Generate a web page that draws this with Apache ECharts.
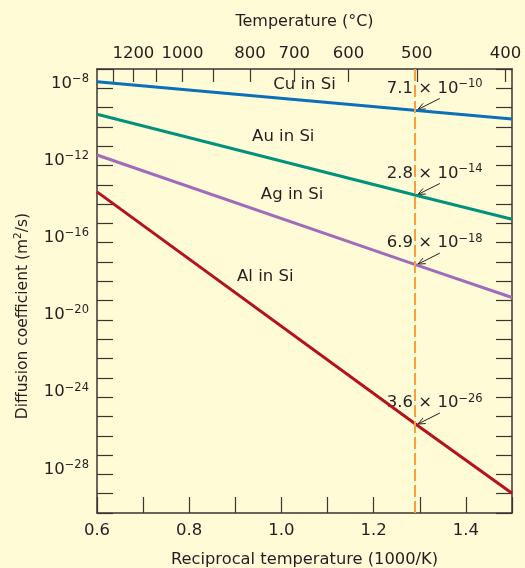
<!DOCTYPE html>
<html><head><meta charset="utf-8">
<script src="https://cdn.jsdelivr.net/npm/echarts@6/dist/echarts.min.js"></script>
<style>html,body{margin:0;padding:0;background:#fffbd6;}#c{width:525px;height:568px;}</style>
</head><body><div id="c"></div>
<script>
// Reciprocal temperature (1000/K) at which values are read
const recipT = [0.6, 1000 / 773, 1.5];
// Diffusion coefficients (m^2/s)
const cuInSi = [2.2e-8, 7.1e-10, 2.6e-10];
const auInSi = [4.5e-10, 2.8e-14, 1.65e-15];
const agInSi = [3.5e-12, 6.9e-18, 1.45e-19];
const alInSi = [4.3e-14, 3.6e-26, 1.05e-29];
const seriesNames = ['Cu in Si', 'Au in Si', 'Ag in Si', 'Al in Si'];
// Label anchor positions (reciprocal T, log10 D)
const labelX = [1.05, 1.004, 1.023, 0.965];
const labelY = [-7.83, -10.52, -13.53, -17.76];
// Annotated values at 500 °C
const annotMant = ['7.1', '2.8', '6.9', '3.6'];
const annotExp = ['−10', '−14', '−18', '−26'];
// Temperature (°C) axis
const tempTicks = [1300, 1200, 1100, 1000, 900, 800, 700, 600, 500, 400];
const tempLabels = [1200, 1000, 800, 700, 600, 500, 400];
const yLabelExps = [-8, -12, -16, -20, -24, -28];

const colors = ['#0a70b8', '#00937a', '#a06cba', '#b3131c'];
const FONT = 'DejaVu Sans';
const txt = '#231f20';
const axisCol = '#3a3530';
const toRecip = t => 1000 / (t + 273);

const allData = [cuInSi, auInSi, agInSi, alInSi];
const chart = echarts.init(document.getElementById('c'), null, {renderer: 'canvas'});

const series = allData.map((arr, i) => ({
  name: seriesNames[i],
  type: 'line',
  data: arr.map((v, j) => [recipT[j], Math.log10(v)]),
  showSymbol: false,
  symbol: 'none',
  lineStyle: {color: colors[i], width: 3},
  silent: true,
  z: 3
}));
series.push({
  type: 'line', data: [], silent: true,
  markLine: {
    symbol: ['none', 'none'], silent: true, label: {show: false},
    lineStyle: {color: '#f4a03c', type: [12, 4], width: 2},
    data: [{xAxis: recipT[1]}]
  },
  z: 2
});

const option = {
  backgroundColor: '#fffbd6',
  animation: false,
  textStyle: {fontFamily: FONT},
  grid: {left: 97, right: 13, top: 69, bottom: 55, containLabel: false, outerBoundsMode: 'none'},
  xAxis: [{
    type: 'value', min: 0.6, max: 1.5, interval: 0.1, position: 'bottom',
    name: 'Reciprocal temperature (1000/K)', nameLocation: 'middle', nameGap: 39,
    nameTextStyle: {fontFamily: FONT, fontSize: 16.3, color: txt},
    axisLine: {lineStyle: {color: axisCol, width: 1.5}},
    axisTick: {inside: true, length: 16, lineStyle: {color: axisCol, width: 1.2}},
    axisLabel: {
      fontFamily: FONT, fontSize: 16.5, color: txt, margin: 9,
      formatter: v => (Math.round(v * 10) % 2 === 0 ? v.toFixed(1) : '')
    },
    splitLine: {show: false}
  }, {
    type: 'value', min: 0.6, max: 1.5, position: 'top',
    name: 'Temperature (°C)', nameLocation: 'middle', nameGap: 39,
    nameTextStyle: {fontFamily: FONT, fontSize: 16, color: txt},
    axisLine: {lineStyle: {color: axisCol, width: 1.5}},
    axisTick: {inside: true, length: 13, customValues: tempTicks.map(toRecip), lineStyle: {color: axisCol, width: 1.2}},
    axisLabel: {
      fontFamily: FONT, fontSize: 16.5, color: txt, margin: 7,
      customValues: tempLabels.map(toRecip),
      formatter: v => String(Math.round(1000 / v - 273))
    },
    splitLine: {show: false}
  }],
  yAxis: [{
    type: 'value', min: -30, max: -7, interval: 1, position: 'left',
    name: 'Diffusion coefficient (m{sup|2}/s)', nameLocation: 'middle', nameGap: 65, nameRotate: 90,
    nameTextStyle: {fontFamily: FONT, fontSize: 15.5, color: txt, padding: [0, 50, 0, 0],
      rich: {sup: {fontFamily: FONT, fontSize: 10.5, color: txt, padding: [0, 0, 8, 0]}}},
    axisLine: {lineStyle: {color: axisCol, width: 1.5}},
    axisTick: {inside: true, length: 16, lineStyle: {color: axisCol, width: 1.2}},
    axisLabel: {
      fontFamily: FONT, fontSize: 16.5, color: txt, margin: 8, padding: [0, 0, 10, 0],
      formatter: v => (yLabelExps.indexOf(v) >= 0 ? '10{sup|−' + (-v) + '}' : ''),
      rich: {sup: {fontFamily: FONT, fontSize: 11.5, color: txt, padding: [0, 0, 9, 0]}}
    },
    splitLine: {show: false}
  }, {
    type: 'value', min: -30, max: -7, interval: 1, position: 'right',
    axisLine: {lineStyle: {color: axisCol, width: 1.5}},
    axisTick: {inside: true, length: 16, lineStyle: {color: axisCol, width: 1.2}},
    axisLabel: {show: false},
    splitLine: {show: false}
  }],
  series: series
};
chart.setOption(option);

// Annotations positioned from data through the chart's scales
const graphics = [];
allData.forEach((arr, i) => {
  const lp = chart.convertToPixel({gridIndex: 0}, [labelX[i], labelY[i]]);
  graphics.push({
    type: 'text', x: lp[0], y: lp[1], silent: true,
    style: {text: seriesNames[i], font: '16.5px "' + FONT + '"', fill: txt, align: 'center', verticalAlign: 'middle'}
  });
  const ip = chart.convertToPixel({gridIndex: 0}, [recipT[1], Math.log10(arr[1])]);
  graphics.push({
    type: 'text', x: ip[0] - 30, y: ip[1] - 22, silent: true,
    style: {
      text: annotMant[i] + ' × 10{sup|' + annotExp[i] + '}',
      font: '16.5px "' + FONT + '"', fill: txt, align: 'left', verticalAlign: 'middle',
      rich: {sup: {font: '11.5px "' + FONT + '"', fill: txt, padding: [0, 0, 9, 0]}}
    }
  });
  const sx = ip[0] + 23, sy = ip[1] - 12, ex = ip[0] + 1, ey = ip[1] - 1;
  const ang = Math.atan2(ey - sy, ex - sx);
  const hl = 8, ha = 0.4;
  graphics.push({
    type: 'polyline', silent: true,
    shape: {points: [[sx, sy], [ex, ey]]},
    style: {stroke: txt, lineWidth: 1, fill: null}
  });
  graphics.push({
    type: 'polyline', silent: true,
    shape: {points: [
      [ex - hl * Math.cos(ang - ha), ey - hl * Math.sin(ang - ha)],
      [ex, ey],
      [ex - hl * Math.cos(ang + ha), ey - hl * Math.sin(ang + ha)]
    ]},
    style: {stroke: txt, lineWidth: 1, fill: null}
  });
});
chart.setOption({graphic: graphics});
</script>
</body></html>
